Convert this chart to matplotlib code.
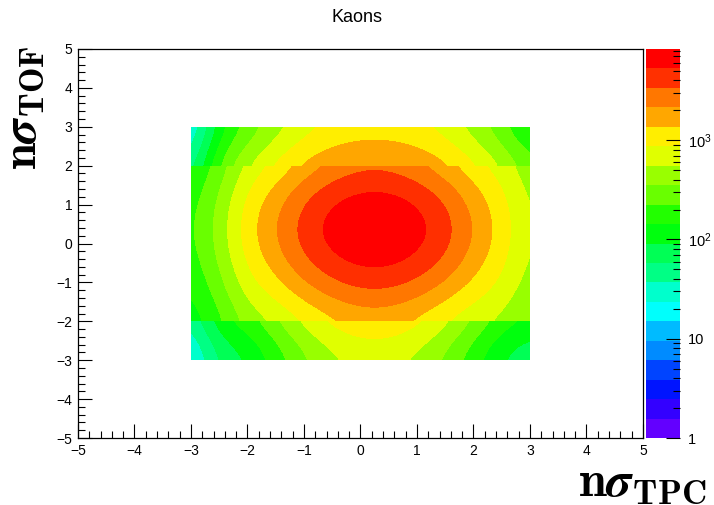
import colorsys
import numpy as np
import matplotlib
matplotlib.use('Agg')
import matplotlib.pyplot as plt
from matplotlib.colors import ListedColormap, LogNorm
from matplotlib.cm import ScalarMappable
from matplotlib.patches import Rectangle
from matplotlib.ticker import MultipleLocator, LogLocator, NullFormatter, FixedLocator

# x = nSigma TPC nodes
x_nodes = [-3, -2.5, -2, -1.5, -1, -0.5, 0, 0.5, 1, 1.5, 2, 2.5, 3]

# lower band (y < -2): counts along the peak column and relative x shape
y_low_nodes = [-3, -2.5, -2]
y_low = [659, 858, 1314]
x_low_rel = [0.030, 0.10, 0.138, 0.263, 0.501, 0.776, 0.97, 0.97, 0.776, 0.501, 0.263, 0.138, 0.10]

# middle band (-2 < y < 2): counts per node, one row per y node
y_mid_nodes = [-2, -1.5, -1, -0.5, 0, 0.5, 1, 1.5, 2]
z_mid = [
    [107, 201, 430, 577, 870, 1250, 1570, 1570, 1250, 870, 626, 506, 348],
    [126, 247, 566, 834, 1348, 1982, 2489, 2489, 1982, 1348, 884, 637, 390],
    [149, 308, 757, 1227, 2133, 3214, 4036, 4036, 3214, 2133, 1271, 811, 441],
    [171, 365, 951, 1663, 3062, 4699, 5902, 5902, 4699, 3062, 1690, 981, 484],
    [187, 410, 1109, 2046, 3908, 6081, 7638, 7638, 6081, 3908, 2051, 1109, 516],
    [190, 418, 1140, 2118, 4074, 6353, 7980, 7980, 6353, 4074, 2118, 1140, 522],
    [178, 386, 1026, 1841, 3451, 5333, 6699, 6699, 5333, 3451, 1858, 1045, 500],
    [157, 329, 828, 1384, 2460, 3733, 4688, 4688, 3733, 2460, 1422, 874, 457],
    [133, 266, 624, 948, 1570, 2328, 2924, 2924, 2328, 1570, 998, 690, 406],
]

# upper band (y > 2): counts along the peak column and relative x shape
y_high_nodes = [2, 2.5, 3]
y_high = [2338, 1582, 1122]
x_high_rel = [0.018, 0.112, 0.240, 0.417, 0.661, 0.871, 0.977, 0.977, 0.871, 0.661, 0.417, 0.240, 0.112]

z_min, z_max = 1, 8300
n_levels = 20

plt.rcParams['font.family'] = ['Liberation Sans', 'DejaVu Sans']

# ROOT "pretty" palette (50 colours) sampled for 20 contour levels
palette = []
for i in range(50):
    hue = 280 - (i + 1) * 280 / 50
    palette.append(colorsys.hls_to_rgb(hue / 360, 0.5, 1))
colors = [palette[int((i + 0.99) * 50 / n_levels)] for i in range(n_levels)]
cmap = ListedColormap(colors)

fig = plt.figure(figsize=(7.14, 5.05), dpi=100)
ax = fig.add_axes([78 / 714, 1 - 438 / 505, 565 / 714, 389 / 505])
cax = fig.add_axes([646 / 714, 1 - 438 / 505, 34 / 714, 389 / 505])

half = 0.25  # half node spacing
bands = [(y_low_nodes, np.outer(y_low, x_low_rel)),
         (y_mid_nodes, np.array(z_mid, dtype=float)),
         (y_high_nodes, np.outer(y_high, x_high_rel))]
for nodes, z in bands:
    im = ax.imshow(np.log10(z), origin='lower', aspect='auto', cmap=cmap,
                   vmin=np.log10(z_min), vmax=np.log10(z_max),
                   extent=(x_nodes[0] - half, x_nodes[-1] + half, nodes[0] - half, nodes[-1] + half),
                   interpolation='bicubic', interpolation_stage='data')
    clip = Rectangle((x_nodes[0], nodes[0]), x_nodes[-1] - x_nodes[0], nodes[-1] - nodes[0],
                     transform=ax.transData)
    im.set_clip_path(clip)

ax.set_xlim(-5, 5)
ax.set_ylim(-5, 5)
ax.xaxis.set_major_locator(MultipleLocator(1))
ax.yaxis.set_major_locator(MultipleLocator(1))
ax.xaxis.set_minor_locator(MultipleLocator(0.2))
ax.yaxis.set_minor_locator(MultipleLocator(0.2))
ax.tick_params(which='both', direction='in', top=False, right=False, width=0.8)
ax.tick_params(which='major', length=10, labelsize=10, pad=4)
ax.tick_params(which='minor', length=5)
for s in ax.spines.values():
    s.set_linewidth(0.9)

sm = ScalarMappable(norm=LogNorm(z_min, z_max), cmap=cmap)
cb = fig.colorbar(sm, cax=cax)
cb.outline.set_visible(False)
cax.yaxis.set_major_locator(FixedLocator([1, 10, 100, 1000]))
cax.set_yticklabels(['1', '10', r'$\mathregular{10^{2}}$', r'$\mathregular{10^{3}}$'])
cax.yaxis.set_minor_locator(LogLocator(subs=np.arange(2, 10)))
cax.yaxis.set_minor_formatter(NullFormatter())
cax.tick_params(which='both', direction='in', right=True, left=False, width=0.8)
cax.tick_params(which='major', length=10, labelsize=10.5, pad=6)
cax.tick_params(which='minor', length=5)

fig.text(0.5, 1 - 17 / 505, 'Kaons', ha='center', va='center', fontsize=13)
fig.text(706 / 714, 1 - 495 / 505, r'$\mathbf{n}\boldsymbol{\sigma}_{\mathbf{TPC}}$',
         ha='right', va='baseline', fontsize=36, math_fontfamily='cm')
fig.text(46 / 714, 1 - 46 / 505, r'$\mathbf{n}\boldsymbol{\sigma}_{\mathbf{TOF}}$',
         ha='right', va='top', rotation=90, fontsize=35, math_fontfamily='cm')

fig.savefig('out.png', dpi=100)
